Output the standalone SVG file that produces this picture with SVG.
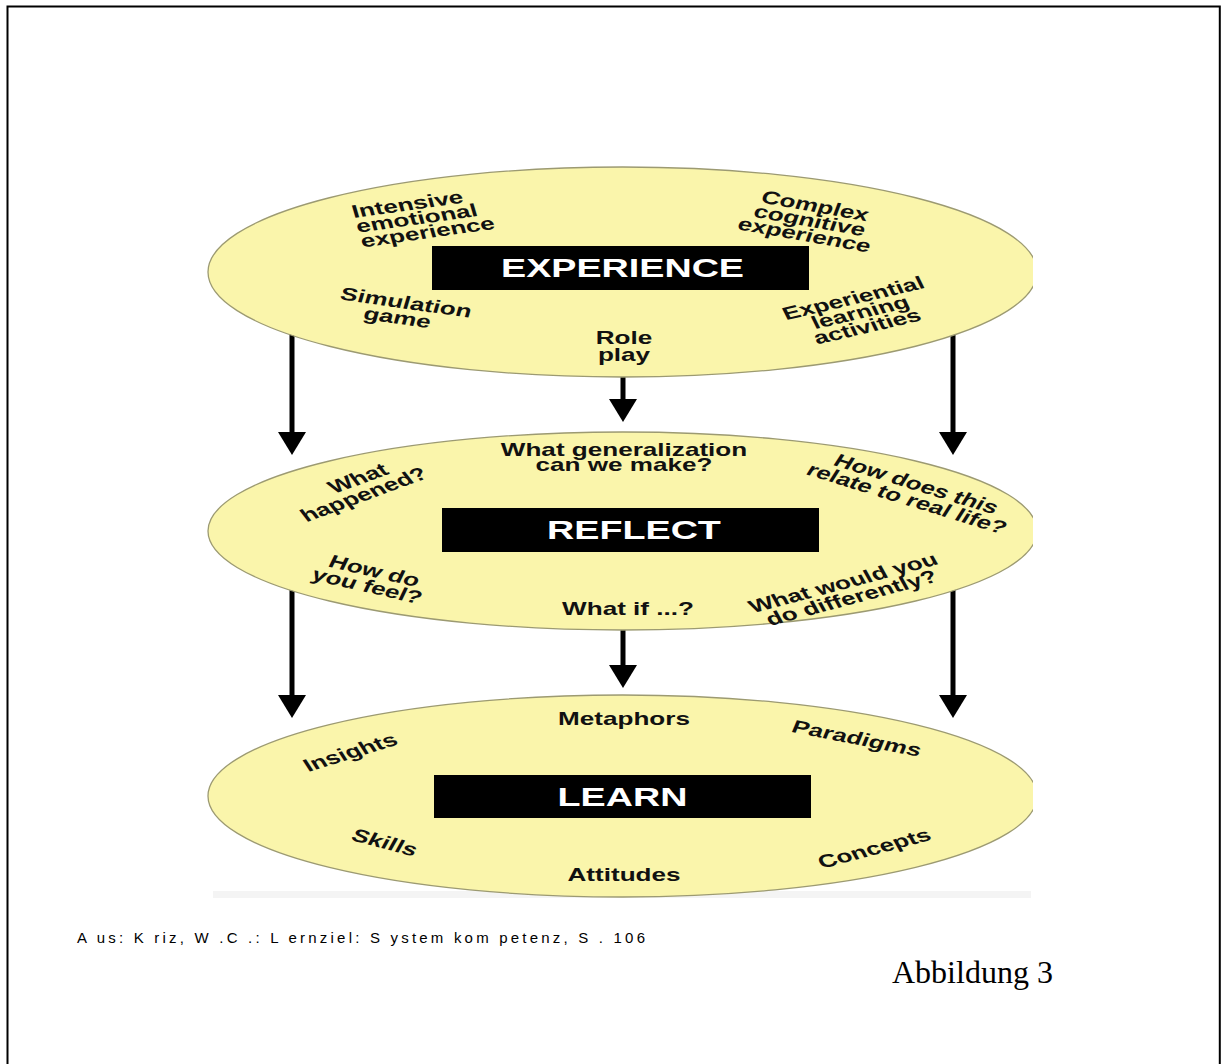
<svg xmlns="http://www.w3.org/2000/svg" width="1221" height="1064" viewBox="0 0 1221 1064">
<style>
.ell{fill:#FAF5AB;stroke:#9C9A72;stroke-width:1.3}
.box{fill:#000}
.ttl{font-family:"Liberation Sans",Arial,sans-serif;font-weight:bold;font-size:26px;fill:#fff;text-anchor:middle}
.lbl{font-family:"Liberation Sans",Arial,sans-serif;font-weight:bold;font-size:18px;fill:#111;text-anchor:middle}
.conn{stroke:#000;stroke-width:5;fill:none}
.cap{font-family:"Liberation Sans",Arial,sans-serif;font-size:15px;fill:#000}
.fig{font-family:"Liberation Serif","Times New Roman",serif;font-size:32px;fill:#000}
</style>
<defs>
<marker id="ah" markerUnits="userSpaceOnUse" markerWidth="24" markerHeight="28" viewBox="0 0 24 28" refX="1" refY="14" orient="auto">
<path d="M0,0 L23,14 L0,28 z" fill="#000"/>
</marker>
<clipPath id="clip"><rect x="0" y="0" width="1033" height="1064"/></clipPath>
</defs>
<rect width="1221" height="1064" fill="#fff"/>
<path d="M7.5,1070 V6.5 H1219.8 V1070" fill="none" stroke="#000" stroke-width="2"/>
<rect x="213" y="891" width="818" height="7" fill="#F4F4F4"/>

<g id="connectors">
<line class="conn" x1="292" y1="330" x2="292" y2="433" marker-end="url(#ah)"/>
<line class="conn" x1="623" y1="368" x2="623" y2="400" marker-end="url(#ah)"/>
<line class="conn" x1="953" y1="330" x2="953" y2="433" marker-end="url(#ah)"/>
<line class="conn" x1="292" y1="588" x2="292" y2="696" marker-end="url(#ah)"/>
<line class="conn" x1="623" y1="626" x2="623" y2="666" marker-end="url(#ah)"/>
<line class="conn" x1="953" y1="588" x2="953" y2="696" marker-end="url(#ah)"/>
</g>

<g id="experience">
<ellipse class="ell" cx="622.5" cy="272" rx="414.5" ry="105" clip-path="url(#clip)"/>
<rect class="box" x="432" y="246" width="377" height="44"/>
<text class="ttl" transform="translate(622.5,277) scale(1.45,1)">EXPERIENCE</text>
<g transform="translate(423,217) scale(1.45,1) rotate(-11.5)"><text class="lbl" style="text-anchor:start"><tspan x="-47" y="-8.5">Intensive</tspan><tspan x="-47" y="6.5">emotional</tspan><tspan x="-47" y="21.5">experience</tspan></text></g>
<g transform="translate(810,220) scale(1.45,1) rotate(14.4)"><text class="lbl"><tspan x="0" y="-8.5">Complex</tspan><tspan x="0" y="6.5">cognitive</tspan><tspan x="0" y="21.5">experience</tspan></text></g>
<g transform="translate(404,310) scale(1.45,1) rotate(11.5)"><text class="lbl"><tspan x="0" y="-1.5">Simulation</tspan><tspan x="-3" y="14.5">game</tspan></text></g>
<text class="lbl" transform="translate(624,0) scale(1.45,1)"><tspan x="0" y="344">Role</tspan><tspan x="0" y="361">play</tspan></text>
<g transform="translate(860,312) scale(1.45,1) rotate(-18.5)"><text class="lbl"><tspan x="0" y="-8.5">Experiential</tspan><tspan x="0" y="6.5">learning</tspan><tspan x="0" y="21.5">activities</tspan></text></g>
</g>

<g id="reflect">
<ellipse class="ell" cx="622.5" cy="531" rx="414.5" ry="99" clip-path="url(#clip)"/>
<rect class="box" x="442" y="508" width="377" height="44"/>
<text class="ttl" transform="translate(634,539) scale(1.45,1)">REFLECT</text>
<text class="lbl" transform="translate(624,0) scale(1.45,1)"><tspan x="0" y="456">What generalization</tspan><tspan x="0" y="471">can we make?</tspan></text>
<g transform="translate(358,487) scale(1.45,1) rotate(-28)"><text class="lbl"><tspan x="4" y="-1.5">What</tspan><tspan x="0" y="14.5">happened?</tspan></text></g>
<g transform="translate(912,491) scale(1.45,1) rotate(24)"><text class="lbl"><tspan x="0" y="-1.5">How does this</tspan><tspan x="0" y="14.5">relate to real life?</tspan></text></g>
<g transform="translate(371,578) scale(1.45,1) rotate(18.5)"><text class="lbl"><tspan x="0" y="-1.5">How do</tspan><tspan x="0" y="14.5">you feel?</tspan></text></g>
<text class="lbl" transform="translate(628,615) scale(1.45,1)">What if ...?</text>
<g transform="translate(847,590) scale(1.45,1) rotate(-21)"><text class="lbl"><tspan x="0" y="-1.5">What would you</tspan><tspan x="0" y="14.5">do differently?</tspan></text></g>
</g>

<g id="learn">
<ellipse class="ell" cx="622.5" cy="796" rx="414.5" ry="101" clip-path="url(#clip)"/>
<rect class="box" x="434" y="775" width="377" height="43"/>
<text class="ttl" transform="translate(622.5,806) scale(1.45,1)">LEARN</text>
<text class="lbl" transform="translate(624,725) scale(1.45,1)">Metaphors</text>
<g transform="translate(857,738) scale(1.45,1) rotate(15.8)"><text class="lbl" y="6.5">Paradigms</text></g>
<g transform="translate(350,752) scale(1.45,1) rotate(-24)"><text class="lbl" y="6.5">Insights</text></g>
<g transform="translate(385,842) scale(1.45,1) rotate(21)"><text class="lbl" y="6.5">Skills</text></g>
<g transform="translate(874,848) scale(1.45,1) rotate(-21)"><text class="lbl" y="6.5">Concepts</text></g>
<text class="lbl" transform="translate(624,881) scale(1.45,1)">Attitudes</text>
</g>

<text class="cap" x="77" y="943" textLength="568" lengthAdjust="spacing">A us: K riz, W .C .: L ernziel: S ystem kom petenz, S . 106</text>
<text class="fig" x="892" y="983">Abbildung 3</text>
</svg>
